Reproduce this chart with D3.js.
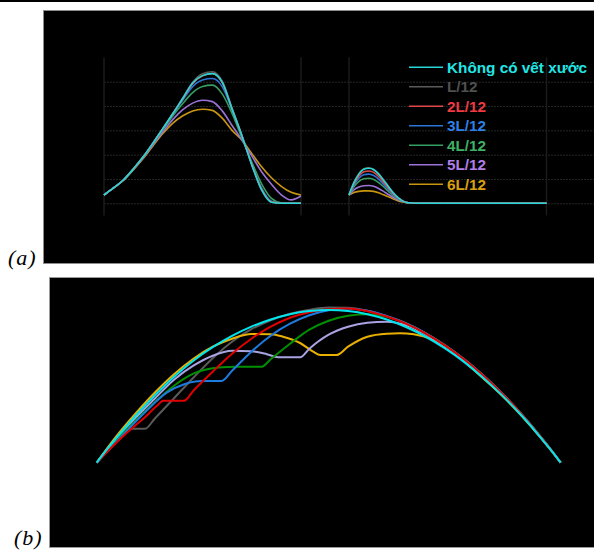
<!DOCTYPE html>
<html><head><meta charset="utf-8">
<script src="https://cdn.jsdelivr.net/npm/d3@7"></script>
<style>html,body{margin:0;padding:0;background:#fff;}svg{display:block;}</style>
</head><body>
<script>
// ---------- DATA ----------
const seriesNames = ["Không có vết xước","L/12","2L/12","3L/12","4L/12","5L/12","6L/12"];
const colorsA = ["#27d6d6","#5a5a5a","#e0484a","#2a74d6","#35a062","#9c72d6","#c8950e"];
const legendTextColors = ["#22e6e6","#505050","#ee3a40","#2f7fe6","#3fb064","#b07fe6","#d8a010"];
const colorsB = ["#00e6ee","#5a5a5a","#e00000","#1e7be0","#009000","#aaa3e2","#e8b000"];

// panel (a), left window: normalised time 0..1
const tLeft = [0,0.05,0.1,0.15,0.2,0.25,0.3,0.35,0.4,0.45,0.5,0.55,0.6,0.65,0.7,0.75,0.8,0.85,0.9,0.95,1];
const aLeftNone = [0.34,0.64,0.97,1.42,1.92,2.49,3.09,3.69,4.32,4.95,5.25,5.33,4.98,3.88,2.78,1.58,0.55,0.04,0,0,0];
const aLeftL1   = [0.34,0.64,0.97,1.42,1.92,2.49,3.09,3.7,4.33,4.98,5.33,5.41,5.03,3.92,2.8,1.6,0.56,0.05,0,0,0];
const aLeftL2   = [0.34,0.64,0.97,1.42,1.92,2.49,3.09,3.69,4.3,4.92,5.24,5.34,4.96,3.88,2.78,1.6,0.58,0.06,0,0,0];
const aLeftL3   = [0.34,0.64,0.97,1.42,1.92,2.49,3.08,3.67,4.25,4.8,5.07,5.13,4.8,3.85,2.78,1.62,0.62,0.08,0,0,0];
const aLeftL4   = [0.34,0.64,0.97,1.42,1.91,2.47,3.04,3.6,4.1,4.55,4.8,4.86,4.5,3.7,2.7,1.7,0.8,0.2,0.02,0,0];
const aLeftL5   = [0.34,0.64,0.97,1.4,1.88,2.42,2.95,3.45,3.85,4.12,4.24,4.18,3.8,3.2,2.6,1.95,1.3,0.78,0.35,0.14,0.3];
const aLeftL6   = [0.34,0.64,0.95,1.38,1.85,2.38,2.88,3.3,3.6,3.8,3.87,3.82,3.5,3.0,2.6,2.05,1.5,1.05,0.7,0.45,0.34];

// panel (a), right window
const tRight = [0,0.025,0.05,0.075,0.1,0.125,0.15,0.175,0.2,0.225,0.25,0.275,0.3,0.35,0.4,0.6,0.8,1];
const aRightNone = [0.34,0.85,1.2,1.4,1.44,1.38,1.2,0.95,0.68,0.42,0.22,0.08,0.02,0,0,0,0,0];
const aRightL1   = [0.34,0.86,1.22,1.42,1.46,1.4,1.22,0.97,0.69,0.43,0.22,0.08,0.02,0,0,0,0,0];
const aRightL2   = [0.34,0.8,1.12,1.3,1.33,1.27,1.1,0.87,0.62,0.38,0.2,0.08,0.02,0,0,0,0,0];
const aRightL3   = [0.34,0.75,1.03,1.17,1.2,1.14,0.99,0.78,0.56,0.35,0.19,0.08,0.02,0,0,0,0,0];
const aRightL4   = [0.34,0.68,0.9,1.01,1.03,0.98,0.85,0.68,0.49,0.31,0.17,0.07,0.02,0,0,0,0,0];
const aRightL5   = [0.34,0.55,0.67,0.72,0.73,0.7,0.61,0.49,0.36,0.24,0.13,0.06,0.02,0,0,0,0,0];
const aRightL6   = [0.34,0.44,0.49,0.51,0.51,0.49,0.43,0.35,0.27,0.18,0.1,0.05,0.02,0,0,0,0,0];

const gridValues = [0,1,2,3,4,5];

// panel (b): [x in L/12 units, deflection]
const bNone = [[0,0],[0.25,1.25],[0.5,2.44],[1,4.67],[1.5,6.72],[2,8.6],[2.5,10.2],[3,11.55],[3.5,12.68],[4,13.6],[4.5,14.32],[5,14.85],[5.5,15.16],[6,15.27],[6.5,15.16],[7,14.85],[7.5,14.32],[8,13.57],[8.5,12.62],[9,11.45],[9.5,10.08],[10,8.48],[10.5,6.68],[11,4.67],[11.5,2.44],[11.75,1.25],[12,0]];
const bL1 = [[0,0],[0.4,1.75],[0.65,2.95],[0.78,3.4],[1.25,3.4],[1.5,4.4],[2,6.45],[2.5,8.5],[3,10.45],[3.5,12.1],[4,13.35],[4.5,14.25],[5,14.9],[5.5,15.3],[6,15.52],[6.5,15.5],[7,15.2],[7.5,14.65],[8,13.92],[8.5,12.95],[9,11.75],[9.5,10.35],[10,8.72],[10.5,6.87],[11,4.8],[11.5,2.5],[11.75,1.28],[12,0]];
const bL2 = [[0,0],[0.4,1.6],[0.78,3.0],[1.29,4.7],[1.6,5.85],[1.72,6.2],[2.26,6.2],[2.5,7.2],[3,9.1],[3.5,10.9],[4,12.4],[4.5,13.6],[5,14.5],[5.5,15.05],[6,15.35],[6.5,15.42],[7,15.15],[7.5,14.62],[8,13.9],[8.5,12.93],[9,11.73],[9.5,10.33],[10,8.7],[10.5,6.86],[11,4.79],[11.5,2.5],[11.75,1.28],[12,0]];
const bL3 = [[0,0],[0.4,1.65],[0.78,3.2],[1.29,5.2],[1.81,7.0],[2.3,7.9],[2.55,8.12],[2.72,8.17],[3.23,8.17],[3.5,9.2],[4,11.1],[4.5,12.7],[5,13.9],[5.5,14.75],[6,15.25],[6.5,15.4],[7,15.2],[7.5,14.68],[8,13.95],[8.5,12.97],[9,11.77],[9.5,10.36],[10,8.73],[10.5,6.88],[11,4.8],[11.5,2.5],[11.75,1.28],[12,0]];
const bL4 = [[0,0],[0.5,2.2],[1,4.2],[1.5,6.05],[2,7.7],[2.5,8.9],[3,9.45],[3.4,9.58],[3.62,9.6],[4.27,9.6],[4.5,10.35],[5,11.9],[5.5,13.3],[6,14.2],[6.5,14.7],[7,14.85],[7.5,14.6],[8,13.92],[8.5,12.95],[9,11.75],[9.5,10.35],[10,8.72],[10.5,6.87],[11,4.8],[11.5,2.5],[11.75,1.28],[12,0]];
const bL5 = [[0,0],[0.5,2.35],[1,4.45],[1.5,6.4],[2,8.3],[2.5,9.7],[3,10.7],[3.5,11.2],[4,11.15],[4.4,10.85],[4.69,10.54],[5.26,10.54],[5.5,11.4],[6,12.8],[6.5,13.6],[7,14.0],[7.5,14.1],[8,13.75],[8.5,12.85],[9,11.65],[9.5,10.25],[10,8.62],[10.5,6.8],[11,4.75],[11.5,2.47],[11.75,1.27],[12,0]];
const bL6 = [[0,0],[0.5,2.6],[1,4.9],[1.5,7.0],[2,8.85],[2.5,10.4],[3,11.6],[3.5,12.4],[4,12.87],[4.5,12.85],[4.82,12.6],[5.26,11.97],[5.6,11.1],[5.78,10.77],[6.21,10.77],[6.5,11.6],[7,12.6],[7.5,12.9],[7.84,12.94],[8.2,12.85],[8.7,12.3],[9.2,11.2],[9.6,9.8],[10,8.42],[10.5,6.64],[11,4.64],[11.5,2.42],[11.75,1.24],[12,0]];

// ---------- DRAW ----------
const W = 594, H = 550;
const svg = d3.select("body").append("svg").attr("width", W).attr("height", H);
svg.append("rect").attr("width", W).attr("height", H).attr("fill", "#fff");
svg.append("rect").attr("x", 0).attr("y", 0).attr("width", W).attr("height", 2).attr("fill", "#000");

// panel frames
svg.append("rect").attr("x", 43.5).attr("y", 10.5).attr("width", 560).attr("height", 253)
  .attr("fill", "#000").attr("stroke", "#8c8c8c").attr("stroke-width", 1);
svg.append("rect").attr("x", 49.5).attr("y", 277.5).attr("width", 560).attr("height", 270)
  .attr("fill", "#000").attr("stroke", "#9a9a9a").attr("stroke-width", 1);

// labels
svg.append("text").attr("x", 8).attr("y", 265).attr("font-family", "Liberation Serif, Times New Roman, serif")
  .attr("font-style", "italic").attr("font-size", 22).attr("letter-spacing", 1).attr("fill", "#000").text("(a)");
svg.append("text").attr("x", 14).attr("y", 545).attr("font-family", "Liberation Serif, Times New Roman, serif")
  .attr("font-style", "italic").attr("font-size", 22).attr("letter-spacing", 1).attr("fill", "#000").text("(b)");

// ---- panel (a)
const yA = d3.scaleLinear().domain([0, 5]).range([203.3, 81.7]);
const xA1 = d3.scaleLinear().domain([0, 1]).range([104, 301]);
const xA2 = d3.scaleLinear().domain([0, 1]).range([349, 546.5]);

const gridG = svg.append("g").attr("transform", `translate(${xA1(0)},0)`)
  .call(d3.axisRight(yA).tickValues(gridValues).tickSize(W - xA1(0)).tickFormat(""));
gridG.select(".domain").remove();
gridG.selectAll("line").attr("stroke", "#262626").attr("stroke-width", 1).attr("stroke-dasharray", "2,1");

[xA1(0), xA1(1), xA2(0), xA2(1)].forEach(x => {
  svg.append("line").attr("x1", x).attr("x2", x).attr("y1", yA(6)).attr("y2", yA(-0.5))
    .attr("stroke", "#1b1b1b").attr("stroke-width", 1.5);
});

const leftSets = [aLeftNone, aLeftL1, aLeftL2, aLeftL3, aLeftL4, aLeftL5, aLeftL6];
const rightSets = [aRightNone, aRightL1, aRightL2, aRightL3, aRightL4, aRightL5, aRightL6];
const drawOrder = [1, 6, 5, 4, 3, 2, 0];

const lineL = d3.line().x((d, i) => xA1(tLeft[i])).y(d => yA(d)).curve(d3.curveMonotoneX);
const lineR = d3.line().x((d, i) => xA2(tRight[i])).y(d => yA(d)).curve(d3.curveMonotoneX);
drawOrder.forEach(k => {
  svg.append("path").attr("d", lineL(leftSets[k])).attr("fill", "none")
    .attr("stroke", colorsA[k]).attr("stroke-width", 1.6);
  svg.append("path").attr("d", lineR(rightSets[k])).attr("fill", "none")
    .attr("stroke", colorsA[k]).attr("stroke-width", 1.6);
});

// legend
const leg = svg.append("g");
seriesNames.forEach((name, i) => {
  const y = 67.3 + i * 19.5;
  leg.append("line").attr("x1", 409).attr("x2", 443).attr("y1", y).attr("y2", y)
    .attr("stroke", colorsA[i]).attr("stroke-width", 1.6);
  leg.append("text").attr("x", 447).attr("y", y).attr("dy", "0.36em")
    .attr("font-family", "Liberation Sans, Arial, sans-serif").attr("font-weight", "bold")
    .attr("font-size", 15.3).attr("fill", legendTextColors[i]).text(name);
});

// ---- panel (b)
const xB = d3.scaleLinear().domain([0, 12]).range([96.7, 560.7]);
const yB = d3.scaleLinear().domain([0, 15]).range([462.7, 312.7]);
const bSets = [bNone, bL1, bL2, bL3, bL4, bL5, bL6];
const lineB = d3.line().x(d => xB(d[0])).y(d => yB(d[1])).curve(d3.curveMonotoneX);
drawOrder.forEach(k => {
  svg.append("path").attr("d", lineB(bSets[k])).attr("fill", "none")
    .attr("stroke", colorsB[k]).attr("stroke-width", 2);
});
</script>
</body></html>
